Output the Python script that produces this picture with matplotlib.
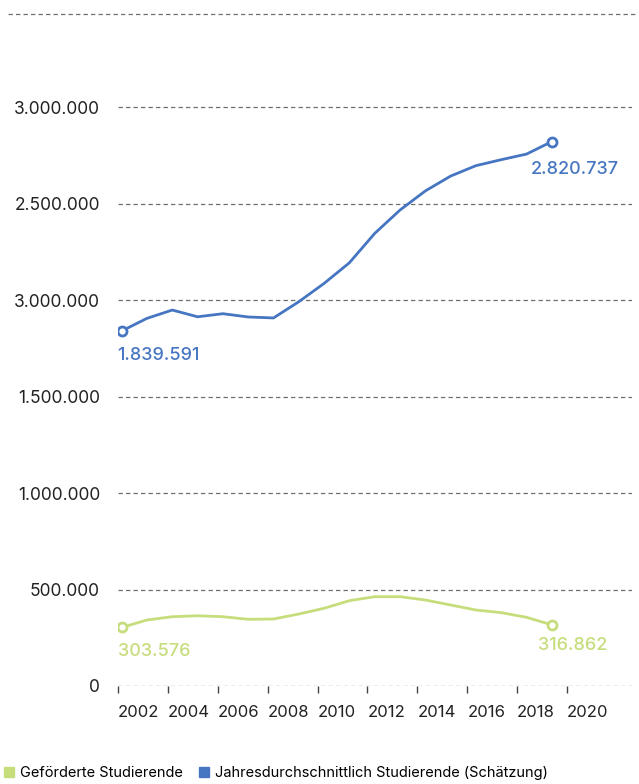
import matplotlib

matplotlib.use("Agg")
import matplotlib.pyplot as plt
from matplotlib.lines import Line2D

plt.rcParams["font.family"] = ["Inter", "DejaVu Sans"]

BLUE = "#4676c2"
GREEN = "#c6dd7c"
GRID = "#6f6f6f"
TEXT = "#222222"

years = list(range(2002, 2020))
studierende = [
    1839591, 1905000, 1948000, 1913000, 1929000, 1912000, 1907000, 1991000,
    2086000, 2193000, 2345000, 2466000, 2565000, 2642000, 2696000, 2727000,
    2756000, 2820737,
]
gefoerderte = [
    303576, 342000, 359000, 364000, 359000, 345600, 347000, 373000,
    402600, 442000, 462700, 462700, 445600, 419700, 393800, 380000,
    356000, 316862,
]
y_ticks = [0, 500000, 1000000, 1500000, 2000000, 2500000, 3000000]
y_labels = ["0", "500.000", "1.000.000", "1.500.000", "3.000.000", "2.500.000", "3.000.000"]
x_ticks = list(range(2002, 2021, 2))


def fmt(v):
    return f"{v:,}".replace(",", ".")


W, H = 639, 784
fig = plt.figure(figsize=(W / 100, H / 100), dpi=100)
ax = fig.add_axes([118 / W, 98 / H, (632 - 118) / W, (686 - 10.5) / H])

ax.set_ylim(0, 3500000)
ax.set_xlim(2002 - 3.7 / 25.3, 2002 + (632 - 121.7) / 25.3)
ax.set_yticks(y_ticks)
ax.set_yticklabels(y_labels)
ax.tick_params(axis="y", length=0, pad=13, labelsize=12.5, labelcolor=TEXT)
ax.set_xticks([])
for s in ax.spines.values():
    s.set_visible(False)
for v in y_ticks:
    ax.axhline(v, color=GRID, linewidth=0.9, linestyle=(0, (3.5, 2.5)), zorder=1)

# year ticks run on their own scale at the bottom
axx = ax.twiny()
axx.set_xlim(2002, 2002 + (632 - 118) / 24.95)
axx.xaxis.set_ticks_position("bottom")
axx.xaxis.set_label_position("bottom")
axx.set_xticks(x_ticks)
axx.set_xticklabels([str(y) for y in x_ticks], ha="left")
axx.tick_params(axis="x", direction="out", length=5, width=1, color="#444444",
                pad=9, labelsize=12, labelcolor=TEXT)
for s in axx.spines.values():
    s.set_visible(False)

for vals, col in [(studierende, BLUE), (gefoerderte, GREEN)]:
    ax.plot(years, vals, color=col, linewidth=2.0, zorder=3, solid_capstyle="round")
    ax.plot([years[0], years[-1]], [vals[0], vals[-1]], linestyle="none", marker="o",
            markersize=6.5, markerfacecolor="white", markeredgecolor=col,
            markeredgewidth=2.0, zorder=4)

lab = dict(fontsize=13, fontweight="medium", textcoords="offset points", va="center")
ax.annotate(fmt(studierende[0]), (years[0], studierende[0]), xytext=(-3, -18),
            ha="left", color=BLUE, **lab)
ax.annotate(fmt(studierende[-1]), (years[-1], studierende[-1]), xytext=(48, -20),
            ha="right", color=BLUE, **lab)
ax.annotate(fmt(gefoerderte[0]), (years[0], gefoerderte[0]), xytext=(-3, -17),
            ha="left", color=GREEN, **lab)
ax.annotate(fmt(gefoerderte[-1]), (years[-1], gefoerderte[-1]), xytext=(40, -15),
            ha="right", color=GREEN, **lab)

# divider line under the heading
fig.add_artist(Line2D([8 / W, 637 / W], [1 - 14 / H, 1 - 14 / H], color=GRID,
                      linewidth=0.9, linestyle=(0, (3.5, 2.5))))

handles = [
    Line2D([], [], linestyle="none", marker="s", markersize=6.5, color=GREEN),
    Line2D([], [], linestyle="none", marker="s", markersize=6.5, color=BLUE),
]
fig.legend(handles, ["Geförderte Studierende", "Jahresdurchschnittlich Studierende (Schätzung)"],
           loc="center left", bbox_to_anchor=(0.0, 1 - 773 / H), ncol=2, frameon=False,
           fontsize=10.5, handlelength=0.7, handletextpad=0.4, columnspacing=1.1,
           borderaxespad=0, borderpad=0.3)

fig.savefig("out.png", dpi=100)
